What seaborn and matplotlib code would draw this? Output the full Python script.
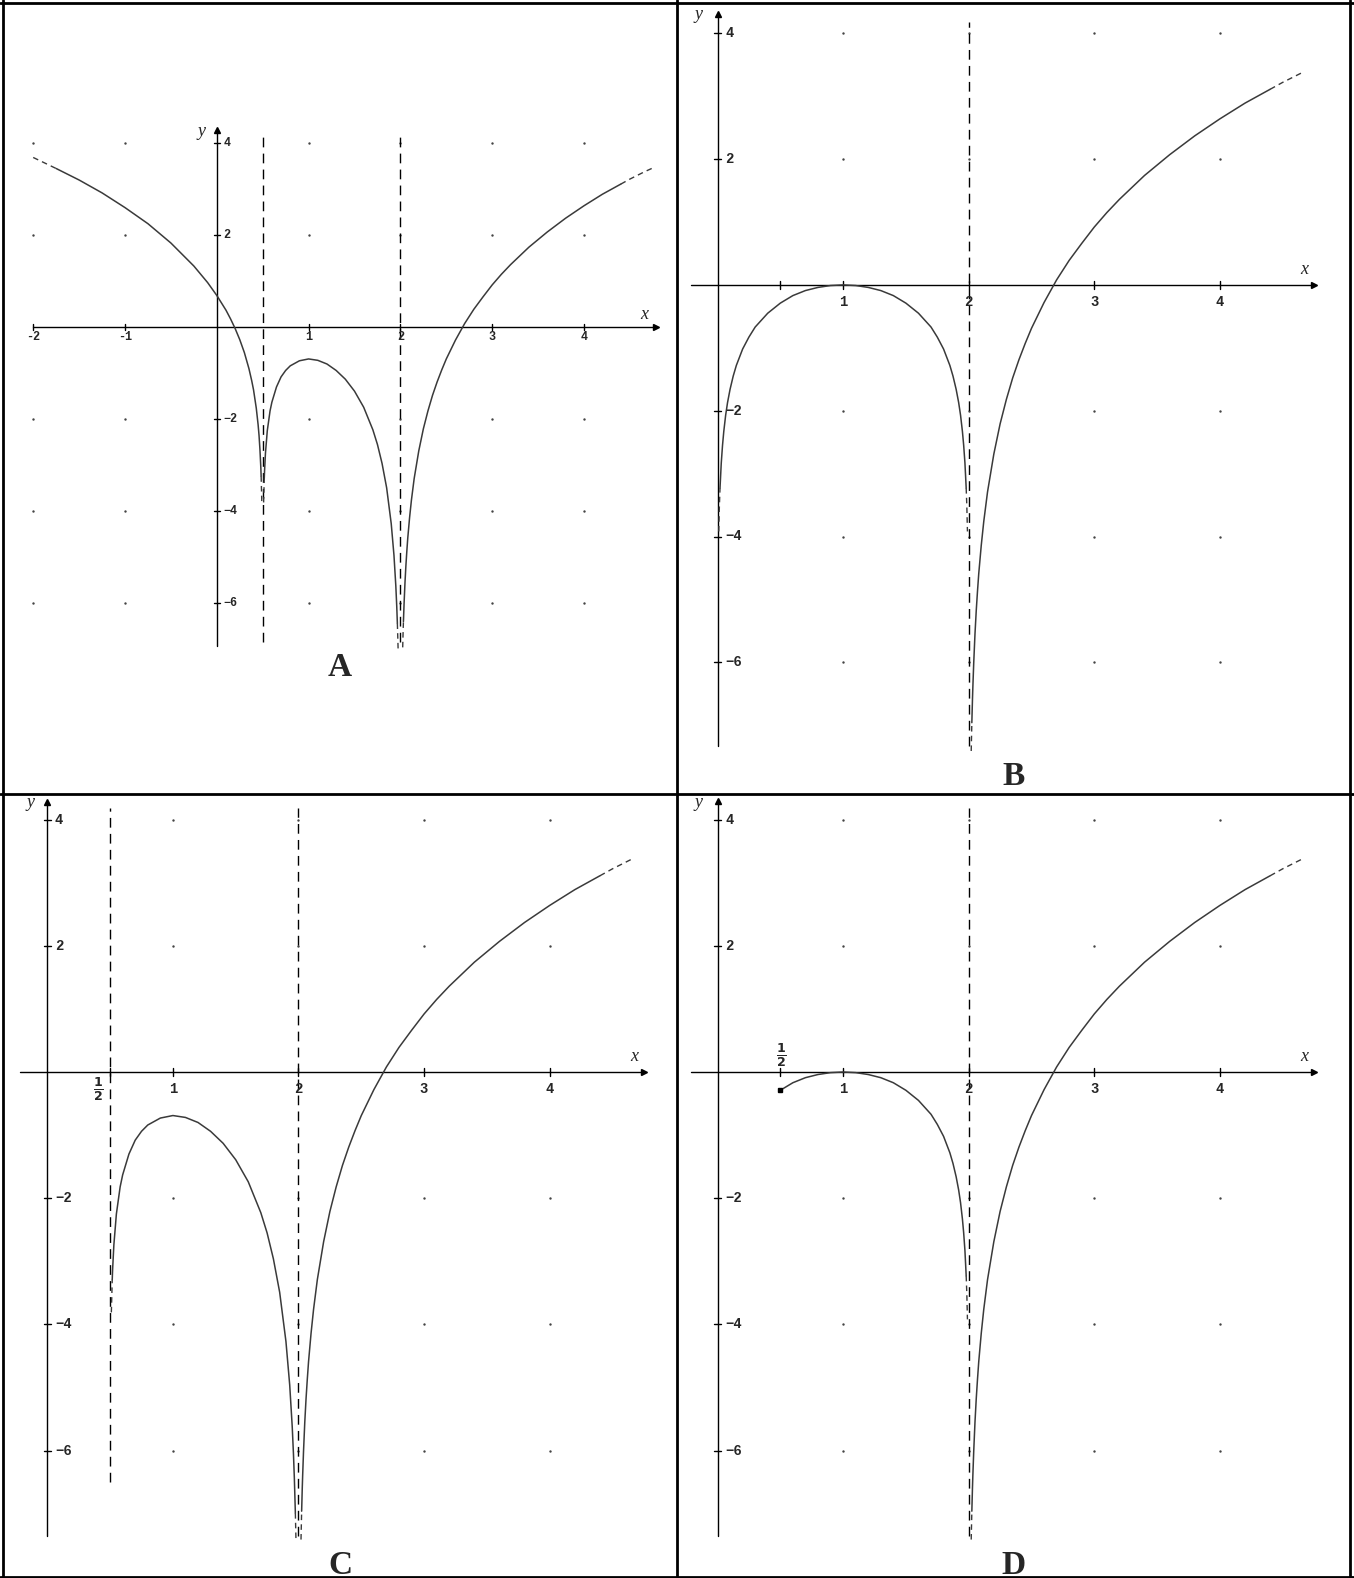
import matplotlib
matplotlib.use("Agg")
import matplotlib.pyplot as plt
from matplotlib.lines import Line2D
import numpy as np
import pandas as pd
import seaborn as sns

sns.set_theme(style="white")
plt.rcParams["font.family"] = ["DejaVu Sans"]

# ---------------- curve samples ----------------
# branch to the right of the asymptote x = 2 (same in all four graphs)
right_x = [2.02, 2.025, 2.03, 2.033, 2.04, 2.05, 2.06, 2.07, 2.08, 2.1,
           2.12, 2.15, 2.2, 2.25, 2.3, 2.35, 2.4, 2.45, 2.5, 2.6,
           2.7, 2.8, 2.9, 3.0, 3.1, 3.2, 3.4, 3.6, 3.8, 4.0,
           4.2, 4.4, 4.5, 4.66, 4.77]
right_y = [-7.41, -6.96, -6.59, -6.40, -6.01, -5.55, -5.18, -4.87, -4.59, -4.14,
           -3.76, -3.29, -2.69, -2.21, -1.82, -1.48, -1.19, -0.93, -0.69, -0.28,
           0.08, 0.39, 0.66, 0.92, 1.15, 1.36, 1.74, 2.07, 2.37, 2.64,
           2.89, 3.11, 3.22, 3.38, 3.48]

# branch between x = 1/2 and x = 2 (graphs A and C)
mid_x = [0.51, 0.517, 0.52, 0.53, 0.55, 0.58, 0.6, 0.65, 0.7, 0.75,
         0.8, 0.9, 1.0, 1.1, 1.2, 1.3, 1.4, 1.5, 1.6, 1.7,
         1.75, 1.8, 1.85, 1.9, 1.93, 1.95, 1.96, 1.967, 1.975, 1.98]
mid_y = [-3.81, -3.29, -3.13, -2.74, -2.25, -1.82, -1.63, -1.30, -1.08, -0.94,
         -0.84, -0.73, -0.69, -0.72, -0.80, -0.94, -1.13, -1.39, -1.74, -2.23,
         -2.55, -2.96, -3.49, -4.27, -4.96, -5.62, -6.06, -6.44, -6.99, -7.43]

# branch to the left of x = 1/2 (graph A)
leftA_x = [-2.0, -1.75, -1.5, -1.25, -1.0, -0.75, -0.5, -0.25, -0.1, 0.0,
           0.1, 0.15, 0.2, 0.25, 0.3, 0.35, 0.38, 0.4, 0.43, 0.45,
           0.46, 0.47, 0.48, 0.483, 0.49]
leftA_y = [3.69, 3.45, 3.20, 2.92, 2.60, 2.25, 1.83, 1.33, 0.97, 0.69,
           0.37, 0.18, -0.03, -0.27, -0.55, -0.90, -1.16, -1.36, -1.76, -2.12,
           -2.35, -2.66, -3.07, -3.24, -3.78]

# arch between x = 0 and x = 2 touching y = 0 at x = 1 (graphs B and D)
arch_x = [0.01, 0.015, 0.02, 0.03, 0.04, 0.05, 0.065, 0.08, 0.1, 0.125,
          0.15, 0.2, 0.25, 0.3, 0.4, 0.5, 0.6, 0.7, 0.8, 0.9,
          1.0, 1.1, 1.2, 1.3, 1.4, 1.5, 1.6, 1.7, 1.75, 1.8,
          1.85, 1.875, 1.9, 1.92, 1.935, 1.95, 1.96, 1.97, 1.98, 1.985, 1.99]
arch_y = [-3.92, -3.51, -3.23, -2.83, -2.55, -2.33, -2.07, -1.87, -1.66, -1.45,
          -1.28, -1.02, -0.83, -0.67, -0.45, -0.29, -0.17, -0.09, -0.04, -0.01,
          0.0, -0.01, -0.04, -0.09, -0.17, -0.29, -0.45, -0.67, -0.83, -1.02,
          -1.28, -1.45, -1.66, -1.87, -2.07, -2.33, -2.55, -2.83, -3.23, -3.51, -3.92]

# end point of graph D
d_start = (0.5, -0.29)

# ticks
ticks_A_x = [-2, -1, 1, 2, 3, 4]
ticks_BCD_x = [1, 2, 3, 4]
ticks_y = [4, 2, -2, -4, -6]
grid_A_x = [-2, -1, 1, 2, 3, 4]
grid_BCD_x = [1, 2, 3, 4]
grid_y = [4, 2, -2, -4, -6]

# ---------------- figure ----------------
W, H = 1354, 1578
fig = plt.figure(figsize=(W / 100, H / 100), dpi=100)

CURVE = "#3a3a3a"
MONO = ["Liberation Mono", "DejaVu Sans Mono"]
SERIF = ["Liberation Serif", "DejaVu Serif"]


def make_panel(rect, x0, sx, y0, sy):
    L, T, R, B = rect
    ax = fig.add_axes([L / W, 1 - B / H, (R - L) / W, (B - T) / H])
    ax.set_xlim((L - x0) / sx, (R - x0) / sx)
    ax.set_ylim((y0 - B) / sy, (y0 - T) / sy)
    ax.axis("off")
    return ax


def branch(ax, xs, ys, lo, hi, xmin=-99, xmax=99):
    df = pd.DataFrame({"x": xs, "y": ys})
    df = df[(df.x >= xmin) & (df.x <= xmax)]
    solid = df[(df.x >= lo) & (df.x <= hi)]
    left = df[df.x <= lo]
    right = df[df.x >= hi]
    sns.lineplot(data=solid, x="x", y="y", ax=ax, sort=False, estimator=None,
                 color=CURVE, linewidth=1.1)
    for part in (left, right):
        if len(part) > 1:
            sns.lineplot(data=part, x="x", y="y", ax=ax, sort=False, estimator=None,
                         color=CURVE, linewidth=1.0, linestyle=(0, (4, 3)))


def asymptote(ax, x, ylo, yhi):
    ax.plot([x, x], [ylo, yhi], color="black", linewidth=1.0,
            linestyle=(0, (7, 4.5)))


def axes_lines(ax, xlo, xhi, ylo, yhi, xticks, yticks, dx, dy, fs,
               xlab_off, ylab_off, xminus="-", label_xy=None, extra_xticks=()):
    ax.plot([xlo, xhi], [0, 0], color="black", linewidth=1.0)
    ax.plot([0, 0], [ylo, yhi], color="black", linewidth=1.0)
    ax.plot([xhi], [0], marker=">", color="black", markersize=5)
    ax.plot([0], [yhi], marker="^", color="black", markersize=5)
    for t in list(xticks) + list(extra_xticks):
        ax.plot([t, t], [-dy, dy], color="black", linewidth=1.0)
    for t in xticks:
        lab = str(t).replace("-", xminus)
        ax.text(t, -xlab_off, lab, ha="center", va="center", fontsize=fs,
                fontweight="bold", family=MONO)
    for t in yticks:
        ax.plot([-dx, dx], [t, t], color="black", linewidth=1.0)
        ax.text(ylab_off, t, str(t).replace("-", "\u2212"), ha="left", va="center",
                fontsize=fs, fontweight="bold", family=MONO)
    (xl, yl) = label_xy
    ax.text(xl[0], xl[1], "x", ha="center", va="center", fontsize=13,
            style="italic", family=SERIF)
    ax.text(yl[0], yl[1], "y", ha="center", va="center", fontsize=13,
            style="italic", family=SERIF)


def grid_dots(ax, xs, ys):
    pts = pd.DataFrame([(x, y) for x in xs for y in ys], columns=["x", "y"])
    sns.scatterplot(data=pts, x="x", y="y", ax=ax, s=3, color="#444444",
                    linewidth=0, legend=False)


# ---- panel A ----
axA = make_panel((0, 0, 677, 794), 216.8, 91.8, 327.2, 46.0)
grid_dots(axA, grid_A_x, grid_y)
asymptote(axA, 0.5, -6.85, 4.2)
asymptote(axA, 2.0, -6.85, 4.2)
axes_lines(axA, -2.0, 4.78, -6.93, 4.28, ticks_A_x, ticks_y, 0.035, 0.07, 8.5,
           0.22, 0.07, xminus="-", label_xy=((4.66, 0.27), (-0.17, 4.25)))
branch(axA, leftA_x, leftA_y, -1.75, 0.483)
branch(axA, mid_x, mid_y, 0.517, 1.967, xmax=1.975)
branch(axA, right_x, right_y, 2.033, 4.4, xmin=2.025)

# ---- panel B ----
axB = make_panel((677, 0, 1354, 794), 717.5, 125.6, 284.9, 62.9)
grid_dots(axB, grid_BCD_x, grid_y)
asymptote(axB, 2.0, -7.33, 4.18)
axes_lines(axB, -0.21, 4.75, -7.33, 4.3, ticks_BCD_x, ticks_y, 0.03, 0.06, 10,
           0.27, 0.06, label_xy=((4.67, 0.24), (-0.15, 4.3)), extra_xticks=(0.5,))
branch(axB, arch_x, arch_y, 0.02, 1.98)
branch(axB, right_x, right_y, 2.025, 4.4, xmax=4.66)

# ---- panel C ----
axC = make_panel((0, 794, 677, 1578), 47.3, 125.6, 1072.0, 63.1)
grid_dots(axC, grid_BCD_x, grid_y)
asymptote(axC, 0.5, -6.5, 4.18)
asymptote(axC, 2.0, -7.35, 4.18)
axes_lines(axC, -0.22, 4.75, -7.35, 4.28, ticks_BCD_x, ticks_y, 0.03, 0.06, 10,
           0.27, 0.06, label_xy=((4.67, 0.24), (-0.13, 4.27)), extra_xticks=(0.5,))
axC.text(0.41, -0.27, r"$\mathbf{\frac{1}{2}}$", ha="center", va="center", fontsize=13)
branch(axC, mid_x, mid_y, 0.517, 1.975)
branch(axC, right_x, right_y, 2.025, 4.4, xmax=4.66)

# ---- panel D ----
axD = make_panel((677, 794, 1354, 1578), 717.5, 125.6, 1072.0, 63.1)
grid_dots(axD, grid_BCD_x, grid_y)
asymptote(axD, 2.0, -7.35, 4.18)
axes_lines(axD, -0.21, 4.75, -7.35, 4.3, ticks_BCD_x, ticks_y, 0.03, 0.06, 10,
           0.27, 0.06, label_xy=((4.67, 0.24), (-0.15, 4.27)), extra_xticks=(0.5,))
axD.text(0.51, 0.27, r"$\mathbf{\frac{1}{2}}$", ha="center", va="center", fontsize=13)
branch(axD, arch_x, arch_y, 0.5, 1.98, xmin=0.5)
branch(axD, right_x, right_y, 2.025, 4.4, xmax=4.66)
axD.plot([d_start[0]], [d_start[1]], marker="s", color="black", markersize=2.2)

# ---- panel letters ----
for lab, (px, py) in {"A": (340, 667), "B": (1014, 777),
                      "C": (340, 1565), "D": (1014, 1565)}.items():
    fig.text(px / W, 1 - py / H, lab, ha="center", va="center", fontsize=24,
             fontweight="bold", family=SERIF)

# ---- frame ----
def hline(y, x0=0, x1=W):
    fig.add_artist(Line2D([x0 / W, x1 / W], [1 - y / H, 1 - y / H],
                          color="black", linewidth=2.0))


def vline(x, y0=0, y1=H):
    fig.add_artist(Line2D([x / W, x / W], [1 - y0 / H, 1 - y1 / H],
                          color="black", linewidth=2.0))


hline(2.5)
hline(1576.5)
hline(794)
vline(2.5)
vline(1350)
vline(677)

fig.savefig("out.png", dpi=100)
